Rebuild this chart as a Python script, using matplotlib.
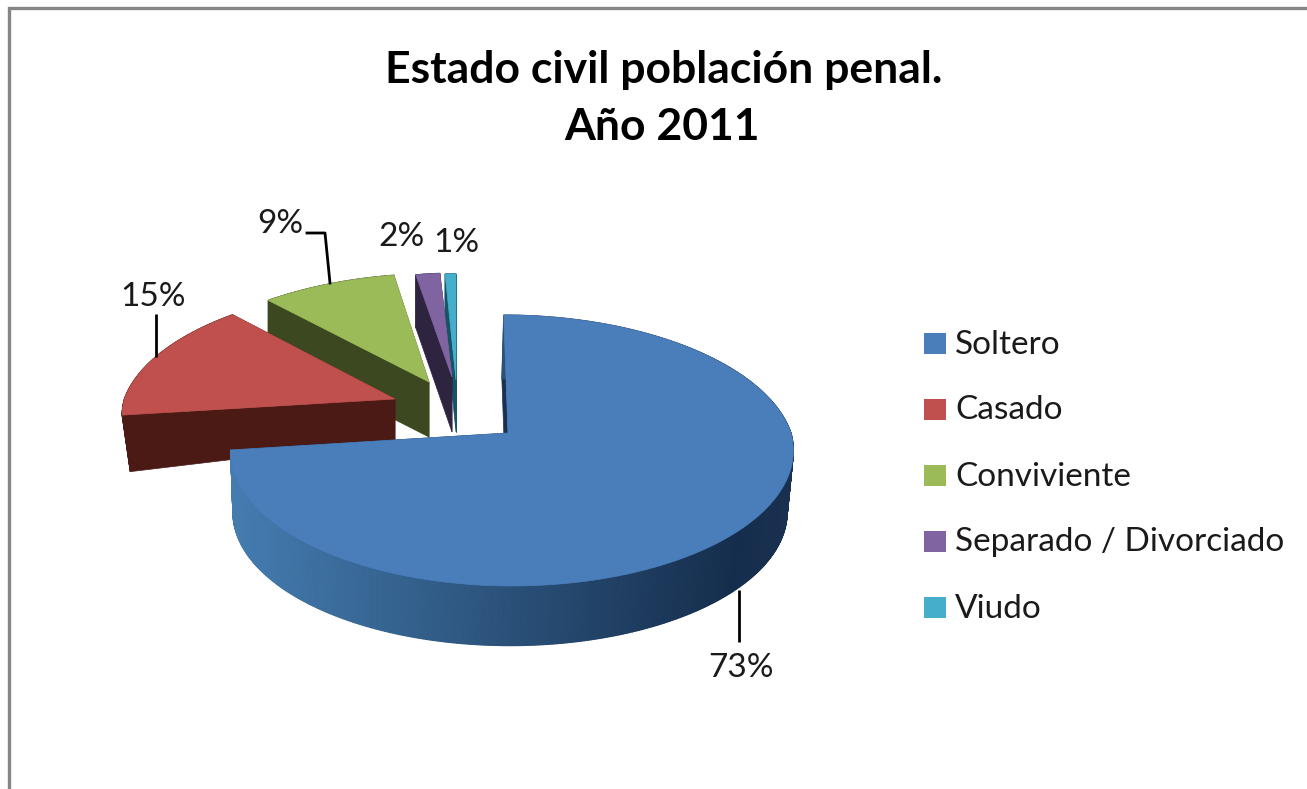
import numpy as np
import matplotlib
matplotlib.use('Agg')
import matplotlib.pyplot as plt
from matplotlib.collections import PolyCollection
from matplotlib.colors import LinearSegmentedColormap
from matplotlib.patches import Polygon, Rectangle

plt.rcParams['font.family'] = ['Lato', 'DejaVu Sans']

categorias = ['Soltero', 'Casado', 'Conviviente', 'Separado / Divorciado', 'Viudo']
valores = [73, 15, 9, 2, 1]
etiquetas = ['73%', '15%', '9%', '2%', '1%']
colores = ['#4a7ebb', '#c0504d', '#9bbb59', '#8064a2', '#45aecb']
oscuros = ['#1a3050', '#4b1a14', '#3c481f', '#2e2440', '#155366']

# perspectiva del disco
K, A, B = 0.129, 279, 133.2

# origen x, origen y, escala x, escala y, cizalla, apex x
sectores = [(512, 433, 1.0, 1.0, 0.07, 508),
            (395, 399, 0.97, 0.95, -0.083, 395),
            (429, 382, 0.963, 0.92, -0.09, 429),
            (452, 377, 0.78, 0.88, 0, 452),
            (456, 380, 0.70, 0.90, 0, 456)]
# dx, alto en apex, alto en borde, escala de la base
bases = [(-2, 62, 62, 0.985),
         (0, 41, 57, 0.97),
         (0, 55, 55, 1.0),
         (0, 55, 53, 1.0),
         (0, 52, 50, 1.0)]
etiqueta_pos = [(741, 668), (153, 297), (280, 224), (401, 237), (456, 243)]

fig = plt.figure(figsize=(13.07, 7.89), dpi=100)
ax = fig.add_axes([0, 0, 1, 1])
ax.set_xlim(0, 1307)
ax.set_ylim(789, 0)
ax.axis('off')

degradado = LinearSegmentedColormap.from_list(
    'pared', [(0, '#1a3050'), (0.1, '#152d4c'), (0.5, '#2a5078'), (1, '#447cb0')])


def borde(t):
    # t en radianes, sentido horario desde arriba
    u, v = np.sin(t), -np.cos(t)
    w = 1 - K * v
    return A * u / w, B * v / w


angulos = np.cumsum([0] + valores) / sum(valores) * 2 * np.pi

for i in [4, 3, 2, 1, 0]:
    t = np.linspace(angulos[i], angulos[i + 1], max(int(valores[i] * 8), 8))
    ox, oy, sx, sy, ciz, apex_x = sectores[i]
    dx, da, de, esc = bases[i]
    X, Y = borde(t)
    Y = Y * sy
    # la cizalla solo afecta a la mitad de atras
    X = X * sx + ciz * np.minimum(Y, 0)
    arriba = np.column_stack([ox + X, oy + Y])
    abajo = np.column_stack([ox + dx + X * esc, oy + de + Y * esc])
    apex = np.array([apex_x, oy])
    apex_b = np.array([apex_x + dx, oy + da])

    # caras de corte
    for j in [0, -1]:
        ax.add_patch(Polygon([apex, arriba[j], abajo[j], apex_b],
                             fc=oscuros[i], ec=oscuros[i], lw=0.5, zorder=2 * (5 - i)))
    # pared exterior
    quads = [[arriba[j], arriba[j + 1], abajo[j + 1], abajo[j]] for j in range(len(t) - 1)]
    if i == 0:
        c = [degradado(np.clip((793 - q[0][0]) / 560, 0, 1)) for q in quads]
    else:
        c = oscuros[i]
    ax.add_collection(PolyCollection(quads, facecolors=c, edgecolors=c, linewidths=0.8,
                                     zorder=2 * (5 - i)))
    # cara superior
    ax.add_patch(Polygon(np.vstack([apex, arriba]), fc=colores[i], ec=colores[i], lw=0.5,
                         zorder=2 * (5 - i) + 1))

# lineas guia
ax.plot([156, 156], [314, 357], color='black', lw=2, zorder=20, solid_capstyle='butt')
ax.plot([307, 325, 330], [233, 233, 283], color='black', lw=2, zorder=20)
ax.plot([739, 739], [590, 642], color='black', lw=2, zorder=20, solid_capstyle='butt')

for (x, y), s in zip(etiqueta_pos, etiquetas):
    ax.text(x, y, s, ha='center', va='center', fontsize=24, color='#1a1a1a', zorder=21)

ax.text(664, 70, 'Estado civil población penal.', ha='center', va='center',
        fontsize=32, fontweight='bold', color='black')
ax.text(662, 127, 'Año 2011', ha='center', va='center',
        fontsize=32, fontweight='bold', color='black')

# leyenda
leyenda_y = [343.5, 409, 475.5, 541, 607.5]
for y, nombre, col in zip(leyenda_y, categorias, colores):
    ax.add_patch(Rectangle((924, y - 10.5), 22, 21, fc=col, ec='none'))
    ax.text(955, y + 1, nombre, ha='left', va='center', fontsize=24, color='#1a1a1a')

# marco
ax.plot([9, 9, 1307], [789, 8, 8], color='#868686', lw=2.4, solid_joinstyle='miter')

fig.savefig('out.png', dpi=100)
